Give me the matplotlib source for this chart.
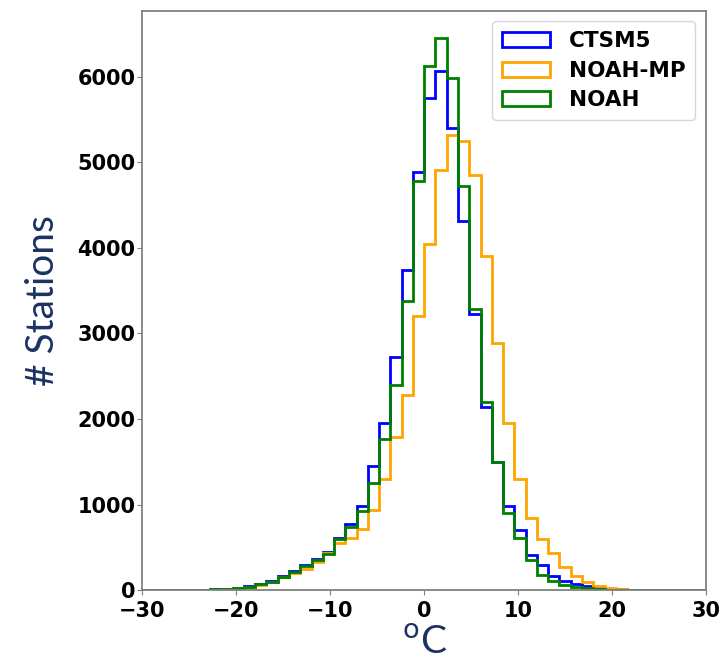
import numpy as np
import matplotlib
matplotlib.use("Agg")
import matplotlib.pyplot as plt

# Histogram bins: 50 bins of 1.2 degC between -30 and 30
bin_edges = np.linspace(-30, 30, 51)

ctsm5 = [0, 0, 1, 2, 3, 5, 10, 18, 28, 45,
         72, 105, 165, 225, 290, 366, 444, 607, 780, 985,
         1452, 1951, 2725, 3740, 4890, 5748, 6070, 5404, 4320, 3232,
         2145, 1495, 990, 700, 410, 290, 165, 105, 72, 48,
         30, 16, 9, 6, 5, 5, 3, 1, 0, 0]

noah_mp = [0, 0, 1, 1, 2, 3, 6, 12, 22, 38,
           62, 95, 152, 199, 245, 327, 435, 552, 615, 718,
           938, 1305, 1794, 2286, 3210, 4044, 4910, 5315, 5249, 4850,
           3910, 2885, 1951, 1297, 841, 596, 440, 270, 167, 95,
           50, 27, 15, 8, 5, 3, 2, 1, 0, 0]

noah = [0, 0, 1, 2, 3, 5, 10, 18, 28, 42,
        70, 101, 159, 217, 284, 354, 424, 596, 743, 930,
        1257, 1764, 2400, 3375, 4785, 6125, 6450, 5981, 4725, 3285,
        2203, 1500, 900, 610, 350, 178, 105, 65, 42, 25,
        14, 8, 5, 3, 2, 1, 0, 0, 0, 0]

series_names = ["CTSM5", "NOAH-MP", "NOAH"]
series_values = [ctsm5, noah_mp, noah]
series_colors = ["blue", "orange", "green"]

x_ticks = [-30, -20, -10, 0, 10, 20, 30]
y_ticks = [0, 1000, 2000, 3000, 4000, 5000, 6000]

navy = "#1b3263"

fig = plt.figure(figsize=(7.24, 6.63), dpi=100)
ax = fig.add_axes([0.1968, 0.1097, 0.7783, 0.8743])

centers = 0.5 * (bin_edges[:-1] + bin_edges[1:])
for name, vals, col in zip(series_names, series_values, series_colors):
    ax.hist(centers, bins=bin_edges, weights=vals, histtype="step",
            color=col, linewidth=2.0, label=name)

ax.set_xlim(-30, 30)
ax.set_xticks(x_ticks)
ax.set_yticks(y_ticks)
for lab in ax.get_xticklabels() + ax.get_yticklabels():
    lab.set_fontweight("bold")
    lab.set_fontsize(15)
ax.tick_params(axis="x", pad=4)
ax.tick_params(axis="y", pad=1.5)

for sp in ax.spines.values():
    sp.set_color("#808080")
    sp.set_linewidth(1.3)
ax.tick_params(color="#808080")

ax.set_ylabel("# Stations", fontsize=28, color=navy, family="Lato", labelpad=12)
ax.set_xlabel("$^{\\mathrm{o}}$C", fontsize=28, color=navy, family="Lato", labelpad=3)

leg = ax.legend(loc="upper right", prop={"weight": "bold", "size": 15.5},
                handlelength=2.2, borderpad=0.45, labelspacing=0.45,
                handletextpad=0.9)

fig.savefig("out.png", dpi=100)
